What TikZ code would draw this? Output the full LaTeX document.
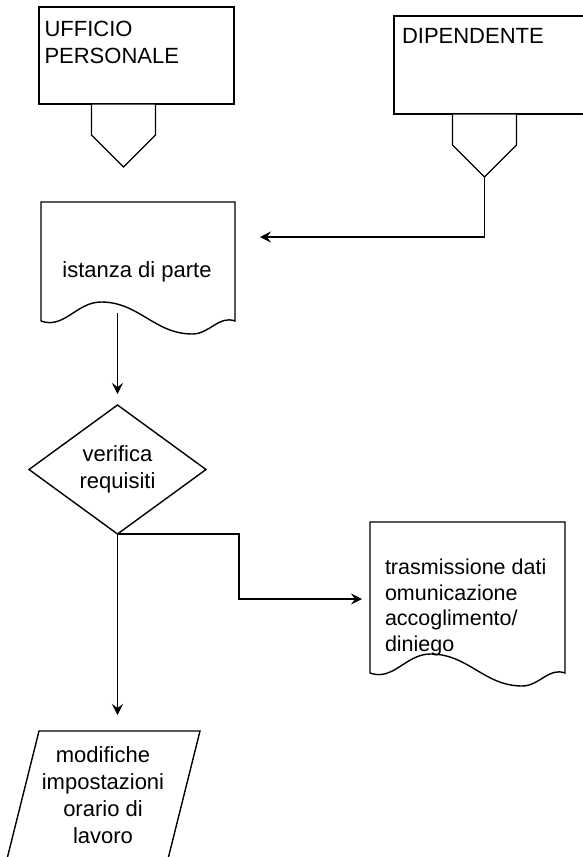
\documentclass[tikz,border=0pt]{standalone}
\usepackage{fontspec}
\setmainfont{Liberation Sans}
\usepackage{tikz}
\usetikzlibrary{positioning, arrows.meta, shapes.geometric}
\tikzstyle{chart} = [x = 1pt, y = -1pt, every node/.style={inner sep = 0pt, outer sep = 0pt}]
\tikzstyle{shapeStyle} = [color=black, fill=white, line width = 1.4pt]
\tikzstyle{flowArrow} = [color=black, line width = 1.4pt, -{Stealth[length = 11pt, width = 11pt, inset = 4pt]}]
\tikzstyle{chartText} = [font=\fontsize{22}{27}\selectfont, align=center]
\tikzstyle{noteText} = [font=\fontsize{21.5}{25.5}\selectfont, align=left]
\tikzstyle{decisionStyle} = [shapeStyle, draw, diamond, minimum width = 177pt, minimum height = 129pt, chartText]
\tikzstyle{actorStyle} = [shapeStyle, draw, rectangle, minimum width = 195pt, minimum height = 97pt, anchor = north west]
\newcommand{\offPage}[3]{\filldraw [shapeStyle] (#2 - 32, #3) -- ++(0, 31) -- ++(32, 32) coordinate (#1) -- ++(32, -32) -- ++(0, -31) -- cycle;}
\newcommand{\documentShape}[4]{
  \pgfmathsetmacro{\docWidth}{#2 - #1}
  \filldraw [shapeStyle] (#1, #4) -- (#1, #3) -- (#2, #3) -- (#2, #4)
    to [out = 160, in = 0] (#1 + 0.78 * \docWidth, #4 + 13)
    to [out = 180, in = 0] (#1 + 0.31 * \docWidth, #4 - 19)
    to [out = 180, in = -20] (#1, #4) -- cycle;
}

\begin{document}
\begin{tikzpicture}[chart]
  \useasboundingbox (0, 0) rectangle (583, 857);
  \clip (0, 0) rectangle (583, 857);

  \node [actorStyle] (ufficio) at (39, 7) {};
  \node [chartText, align = left, anchor = base west] (ufficioLabel) at (44.5, 63) {UFFICIO\\PERSONALE};
  \offPage{ufficioPin}{123.5}{104}

  \node [actorStyle, minimum width = 200pt, minimum height = 98pt] (dipendente) at (394, 16) {};
  \node [chartText, anchor = base west] (dipendenteLabel) at (402, 43) {DIPENDENTE};
  \offPage{dipendentePin}{484.5}{114}

  \documentShape{41}{235}{202}{321}
  \node [chartText, anchor = base] (istanza) at (137, 277) {istanza di parte};

  \node [decisionStyle] (verifica) at (117.5, 469.5) {verifica\\requisiti};

  \documentShape{370}{565}{522}{673}
  \node [noteText, anchor = base west] (trasmissione) at (385, 651) {trasmissione dati\\omunicazione\\accoglimento/\\diniego};

  \filldraw [shapeStyle] (39, 731) -- (200, 731) -- (166, 867) -- (5, 867) -- cycle;
  \node [chartText, anchor = base] (modifiche) at (103, 843) {modifiche\\impostazioni\\orario di\\lavoro};

  \coordinate (istanzaIn) at (260, 237);
  \coordinate (istanzaOut) at (117.5, 313);
  \coordinate (bend) at (239, 560);
  \coordinate (trasmissioneIn) at (362, 599);
  \coordinate (modificheIn) at (117.5, 731);

  \draw [flowArrow] (dipendentePin) |- (istanzaIn);
  \draw [flowArrow, shorten >= 11pt] (istanzaOut) -- (verifica.north);
  \draw [flowArrow] (verifica.south) -| (bend) |- (trasmissioneIn);
  \draw [flowArrow, shorten >= 16pt] (verifica.south) -- (modificheIn);
\end{tikzpicture}
\end{document}
